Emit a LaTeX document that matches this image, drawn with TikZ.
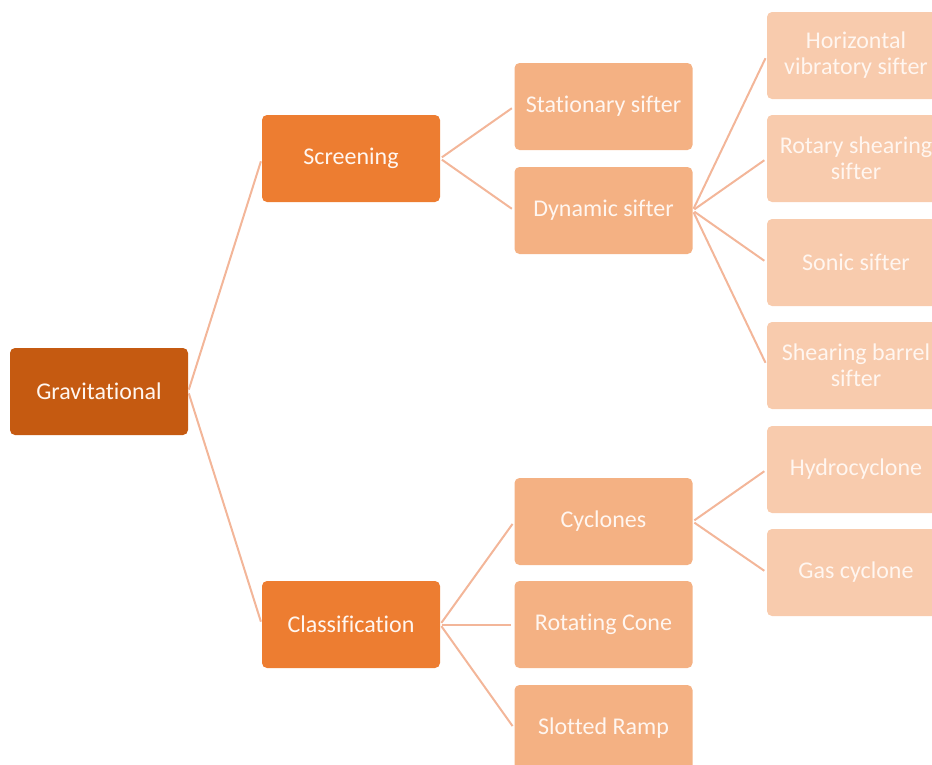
\documentclass[tikz,border=0pt]{standalone}
\usepackage{fontspec}
\setmainfont{Carlito}[Ligatures={NoCommon}]
\definecolor{rootfill}{RGB}{197,90,17}
\definecolor{midfill}{RGB}{237,125,49}
\definecolor{lvltwo}{RGB}{244,177,131}
\definecolor{lvlthree}{RGB}{248,203,173}
\definecolor{linkcol}{RGB}{243,182,153}
\definecolor{txtcol}{RGB}{255,246,240}
\begin{document}
\begin{tikzpicture}[x=1pt,y=-1pt,
  box/.style={rectangle, rounded corners=5pt, minimum width=178pt, minimum height=87pt,
    inner sep=0pt, align=center, text=txtcol, font=\fontsize{24}{26}\selectfont},
  rootbox/.style={box, fill=rootfill},
  midbox/.style={box, fill=midfill},
  twobox/.style={box, fill=lvltwo},
  threebox/.style={box, fill=lvlthree},
  link/.style={draw=linkcol, line width=2pt}]
\useasboundingbox (0,0) rectangle (932,764);
\begin{scope}
\clip (0,0) rectangle (932,764);
% root and first level
\node[rootbox] (grav) at (99,391.5) {Gravitational};
\node[midbox] (scr) at (351,158.5) {Screening};
\node[midbox] (cls) at (351,624.5) {Classification};
% second level
\node[twobox] (stat) at (603.5,106.5) {Stationary sifter};
\node[twobox] (dyn) at (603.5,210.5) {Dynamic sifter};
\node[twobox] (cyc) at (603.5,521.5) {Cyclones};
\node[twobox] (rot) at (603.5,624.5) {Rotating Cone};
\node[twobox] (slot) at (603.5,728.5) {Slotted Ramp};
% third level
\node[threebox] (hor) at (856,55.5) {Horizontal\\vibratory sifter};
\node[threebox] (rsh) at (856,158.5) {Rotary shearing\\sifter};
\node[threebox] (son) at (856,262.5) {Sonic sifter};
\node[threebox] (sbar) at (856,365.5) {Shearing barrel\\sifter};
\node[threebox] (hyd) at (856,469.5) {Hydrocyclone};
\node[threebox] (gas) at (856,572.5) {Gas cyclone};
% connectors
\begin{scope}[shorten <=2pt, shorten >=3pt]
\draw[link] (grav.east) -- (scr.west);
\draw[link] (grav.east) -- (cls.west);
\draw[link] (scr.east) -- (stat.west);
\draw[link] (scr.east) -- (dyn.west);
\draw[link] (dyn.east) -- (hor.west);
\draw[link] (dyn.east) -- (rsh.west);
\draw[link] (dyn.east) -- (son.west);
\draw[link] (dyn.east) -- (sbar.west);
\draw[link] (cls.east) -- (cyc.west);
\draw[link] (cls.east) -- (rot.west);
\draw[link] (cls.east) -- (slot.west);
\draw[link] (cyc.east) -- (hyd.west);
\draw[link] (cyc.east) -- (gas.west);
\end{scope}
\end{scope}
\end{tikzpicture}
\end{document}
